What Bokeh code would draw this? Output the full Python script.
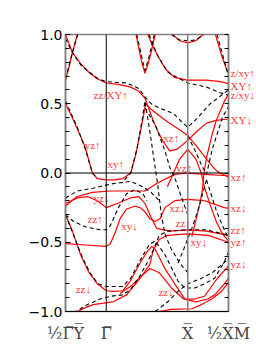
from bokeh.plotting import figure
from bokeh.models import FixedTicker, LinearAxis, Span
from bokeh.core.properties import value
from bokeh.embed import file_html
from bokeh.resources import INLINE
import numpy as np

# ---- high-symmetry path (k positions) ----
kpath_pos = [0, 1, 3, 4]
kpath_labels = ["½Γ\u0305Y\u0305", "Γ\u0305", "X\u0305", "½X\u0305M\u0305"]

# ---- red (solid) bands: (k, E) readings ----
red_zzxy_up = [(0,1.0),(0.17,0.87),(0.37,0.79),(0.6,0.72),(0.78,0.68),(1.0,0.65),(1.3,0.64),(1.6,0.62),(1.8,0.59),(1.95,0.54),(2.05,0.46),(2.15,0.38),(2.27,0.3),(2.39,0.23),(2.56,0.16),(2.73,0.17),(2.98,0.23),(3.22,0.3),(3.46,0.36),(3.7,0.38),(4.0,0.39)]
red_short = [(0,0.67),(0.1,0.78),(0.17,0.87),(0.29,1.0)]
red_yz_up = [(0,0.5),(0.15,0.41),(0.29,0.32),(0.49,0.18),(0.66,0.0),(0.78,-0.04),(1.0,-0.05),(1.2,-0.05),(1.41,-0.04),(1.6,0.0),(1.73,0.14),(1.88,0.36),(1.97,0.5),(2.1,0.46),(2.27,0.42),(2.5,0.37),(2.76,0.32),(3.0,0.27),(3.2,0.2),(3.41,0.12),(3.6,0.05),(3.73,0.01),(4.0,-0.03)]
red_v = [(1.73,1.0),(1.8,0.9),(1.87,0.8),(1.95,0.72),(2.02,0.78),(2.1,0.87),(2.2,1.0)]
red_xy_up = [(2.02,1.0),(2.12,0.93),(2.24,0.86),(2.37,0.79),(2.49,0.74),(2.68,0.69),(2.98,0.67),(3.46,0.67),(3.8,0.66),(4.0,0.645)]
red_top = [(2.63,1.0),(2.8,0.955),(3.0,0.94),(3.2,0.955),(3.37,1.0)]
red_corner = [(3.68,1.0),(3.83,0.85),(3.95,0.75),(4.0,0.72)]
red_zxy_dn = [(4.0,0.57),(3.9,0.52),(3.83,0.47),(3.7,0.38),(3.6,0.28),(3.46,0.11),(3.4,0.0),(3.36,-0.12),(3.3,-0.22),(3.2,-0.34),(3.1,-0.46)]
red_hump = [(2.5,-0.1),(2.65,0.0),(2.8,0.1),(3.0,0.17),(3.2,0.1),(3.33,0.0),(3.41,-0.1),(3.55,-0.23),(3.7,-0.35),(3.85,-0.44),(4.0,-0.49)]
red_yz_dn = [(0,-0.24),(0.15,-0.2),(0.29,-0.17),(0.66,-0.14),(1.1,-0.13),(1.6,-0.13),(1.95,-0.13),(2.27,-0.07),(2.68,-0.01),(3.0,0.0),(3.4,-0.01),(4.0,-0.02)]
red_wobble = [(0,-0.22),(0.29,-0.18),(0.54,-0.17),(0.78,-0.2),(1.0,-0.25),(1.27,-0.22),(1.59,-0.18),(1.8,-0.17),(1.95,-0.22),(2.1,-0.32),(2.24,-0.4),(2.56,-0.42),(3.0,-0.41),(3.46,-0.42),(4.0,-0.45)]
red_xz_dn = [(0,-0.51),(0.5,-0.52),(1.0,-0.53),(1.1,-0.51),(1.22,-0.43),(1.34,-0.33),(1.5,-0.26),(1.7,-0.24),(1.83,-0.25),(1.95,-0.28),(2.07,-0.33),(2.2,-0.35),(2.32,-0.33),(2.44,-0.25),(2.68,-0.2),(3.0,-0.19),(3.41,-0.2),(3.9,-0.25),(4.0,-0.255)]
red_zz_dn = [(0,-0.3),(0.17,-0.42),(0.37,-0.59),(0.56,-0.71),(0.78,-0.8),(1.0,-0.85),(1.17,-0.855),(1.41,-0.85),(1.59,-0.78),(1.83,-0.65),(2.0,-0.57),(2.12,-0.53),(2.2,-0.55),(2.44,-0.69),(2.68,-0.8),(2.93,-0.91),(3.17,-0.91),(3.41,-0.89),(3.73,-0.76),(4.0,-0.67)]
red_bottom = [(0.29,-1.0),(0.5,-0.97),(0.68,-0.95),(0.93,-0.94),(1.17,-0.93),(1.5,-0.88),(1.83,-0.76),(2.07,-0.66),(2.15,-0.56),(2.3,-0.48),(2.5,-0.45),(3.0,-0.44),(3.5,-0.45),(4.0,-0.5)]
red_rise = [(1.34,-0.87),(1.63,-0.81),(1.88,-0.74),(2.07,-0.69),(2.3,-0.72),(2.6,-0.83),(2.9,-0.91),(3.2,-0.93),(3.49,-0.91),(3.66,-0.88),(3.9,-0.8),(4.0,-0.76)]
red_floor = [(2.3,-1.0),(2.6,-0.985),(3.1,-0.98),(3.34,-0.95),(3.59,-0.91),(3.83,-0.855),(4.0,-0.79)]

# ---- black dashed bands: (k, E) readings ----
dash_a = [(0,0.97),(0.17,0.87),(0.4,0.77),(0.8,0.68),(1.0,0.66),(1.5,0.65),(1.8,0.61),(1.95,0.55),(2.1,0.5),(2.3,0.47),(2.65,0.43),(2.85,0.37),(3.0,0.33),(3.25,0.4),(3.55,0.5),(4.0,0.6)]
dash_b = [(0,0.68),(0.17,0.87),(0.3,1.0)]
dash_c = [(0,0.52),(0.29,0.33),(0.49,0.17),(0.66,0.0),(0.78,-0.04)]
dash_d = [(1.45,-0.05),(1.6,0.0),(1.75,0.17),(1.88,0.38),(1.95,0.52),(2.07,0.3),(2.17,0.1),(2.22,0.0),(2.27,-0.1),(2.35,-0.3),(2.45,-0.45),(2.6,-0.55),(2.8,-0.65),(3.0,-0.72)]
dash_e = [(1.95,0.47),(2.2,0.35),(2.44,0.16),(2.56,0.04),(2.7,-0.05),(2.85,-0.18),(3.0,-0.3)]
dash_v = [(1.75,1.0),(1.87,0.84),(1.95,0.74),(2.05,0.84),(2.18,1.0)]
dash_f = [(2.05,1.0),(2.24,0.86),(2.5,0.73),(2.68,0.7),(3.0,0.65),(3.46,0.62),(3.8,0.58),(4.0,0.56)]
dash_g = [(3.72,1.0),(3.86,0.85),(4.0,0.7)]
dash_top = [(2.6,1.0),(2.8,0.96),(3.0,0.955),(3.2,0.96),(3.4,1.0)]
dash_h = [(3.0,0.27),(3.2,0.15),(3.35,0.05),(3.46,-0.01),(3.6,0.17),(3.85,0.4),(4.0,0.48)]
dash_j = [(0,-0.18),(0.29,-0.13),(0.68,-0.11),(1.1,-0.08),(1.34,-0.07),(1.6,-0.06),(1.9,-0.1),(2.1,-0.14),(2.3,-0.2)]
dash_i = [(0,-0.3),(0.2,-0.35),(0.5,-0.39),(0.85,-0.41),(1.0,-0.41),(1.1,-0.38),(1.3,-0.25),(1.5,-0.15),(1.7,-0.12),(1.9,-0.15),(2.0,-0.2)]
dash_k = [(0,-0.3),(0.2,-0.45),(0.4,-0.6),(0.6,-0.72),(0.8,-0.8),(1.0,-0.82),(1.4,-0.82),(1.6,-0.76),(1.85,-0.62),(2.05,-0.52),(2.2,-0.49),(2.44,-0.59),(2.61,-0.69),(2.76,-0.78),(2.93,-0.83),(3.17,-0.83),(3.41,-0.8),(3.66,-0.76),(3.9,-0.64),(4.0,-0.57)]
dash_bot = [(0.2,-1.01),(0.54,-0.95),(0.85,-0.91),(1.1,-0.89),(1.41,-0.88),(1.6,-0.84),(1.83,-0.74),(2.0,-0.65),(2.15,-0.56),(2.3,-0.45),(2.5,-0.42),(3.0,-0.41),(3.46,-0.41),(4.0,-0.45)]
dash_bot2 = [(2.2,-1.0),(2.51,-0.93),(2.76,-0.855),(3.0,-0.8),(3.34,-0.76),(3.6,-0.72),(4.0,-0.62)]
dash_x1 = [(3.46,-0.05),(3.25,-0.27),(3.1,-0.4),(2.9,-0.55),(2.75,-0.66)]
dash_x2 = [(3.46,-0.05),(3.7,-0.27),(3.85,-0.38),(4.0,-0.47)]

red_bands = [red_zzxy_up, red_short, red_yz_up, red_v, red_xy_up, red_top, red_corner,
             red_zxy_dn, red_hump, red_yz_dn, red_wobble, red_xz_dn, red_zz_dn,
             red_bottom, red_rise, red_floor]
dash_bands = [dash_a, dash_b, dash_c, dash_d, dash_e, dash_v, dash_f, dash_g, dash_top,
              dash_h, dash_j, dash_i, dash_k, dash_bot, dash_bot2, dash_x1, dash_x2]

# ---- orbital labels inside the plot ----
in_label_text = ["zz/XY↑", "yz↑", "xy↑", "xz↑", "yz↑", "yz↓", "zz↑", "xy↓", "zz↓", "xz↓", "zz↑", "xy↓", "zz↓"]
in_label_k = [0.69, 0.47, 1.03, 2.4, 2.72, 0.69, 0.54, 1.37, 0.25, 2.55, 2.7, 3.07, 2.28]
in_label_e = [0.565, 0.2, 0.065, 0.25, 0.035, -0.18, -0.335, -0.385, -0.835, -0.25, -0.36, -0.5, -0.86]

# ---- orbital labels on the right edge ----
right_label_text = ["z/xy↑", "XY↑", "z/xy↓", "XY↓", "xz↑", "xz↓", "zz↑", "yz↑", "yz↓"]
right_label_e = [0.72, 0.63, 0.565, 0.38, -0.03, -0.25, -0.41, -0.5, -0.66]

y_ticks = [-1.0, -0.5, 0.0, 0.5, 1.0]
y_tick_labels = ["−1.0", "−0.5", "0.0", "0.5", "1.0"]

RED = "#ff0000"
LBL = "#ff3a3a"
GREY = "#7f7f7f"
SERIF = "Liberation Serif"

p = figure(frame_width=163, frame_height=277, x_range=(0, 4), y_range=(-1.0, 1.0),
           output_backend="svg", toolbar_location=None,
           min_border_left=65, min_border_right=0, min_border_top=34, min_border_bottom=30)
p.background_fill_color = "white"
p.border_fill_color = "white"
p.grid.visible = False
p.outline_line_color = GREY
p.outline_line_width = 1.5

for band in red_bands:
    ks = [b[0] for b in band]
    es = [b[1] for b in band]
    p.line(ks, es, line_color=RED, line_width=1.2)
for band in dash_bands:
    ks = [b[0] for b in band]
    es = [b[1] for b in band]
    p.line(ks, es, line_color="black", line_width=1.1, line_dash="4 3")

p.add_layout(Span(location=0.0, dimension="width", line_color="black", line_width=1))
p.add_layout(Span(location=1, dimension="height", line_color="black", line_width=1))
p.add_layout(Span(location=3, dimension="height", line_color=GREY, line_width=1.5))

p.text(x=in_label_k, y=in_label_e, text=in_label_text, text_color=LBL,
       text_font=value(SERIF), text_font_size="11px", text_baseline="middle", text_align="left")

minor = [round(v, 1) for v in np.arange(-1.0, 1.001, 0.1)]

# left axis
ya = p.yaxis[0]
ya.ticker = FixedTicker(ticks=y_ticks, minor_ticks=minor)
ya.major_label_overrides = {t: l for t, l in zip(y_ticks, y_tick_labels)}
ya.major_label_text_font = "DejaVu Sans"
ya.major_label_text_font_size = "14px"
ya.major_label_text_color = "black"
ya.major_tick_in = 5
ya.major_tick_out = 0
ya.minor_tick_in = 4
ya.minor_tick_out = 0
ya.axis_line_color = GREY
ya.axis_line_width = 1.5
ya.major_label_standoff = 3

# right axis carrying orbital labels
ra = LinearAxis(ticker=FixedTicker(ticks=right_label_e, minor_ticks=minor))
ra.major_label_overrides = {t: l for t, l in zip(right_label_e, right_label_text)}
ra.major_label_text_font = SERIF
ra.major_label_text_font_size = "11px"
ra.major_label_text_color = LBL
ra.major_tick_in = 0
ra.major_tick_out = 0
ra.minor_tick_in = 4
ra.minor_tick_out = 0
ra.axis_line_color = GREY
ra.axis_line_width = 1.5
ra.major_label_standoff = 2
p.add_layout(ra, "right")

# bottom axis
xa = p.xaxis[0]
xa.ticker = FixedTicker(ticks=kpath_pos)
xa.major_label_overrides = {t: l for t, l in zip(kpath_pos, kpath_labels)}
xa.major_label_text_font = "DejaVu Serif"
xa.major_label_text_font_size = "16px"
xa.major_tick_in = 0
xa.major_tick_out = 0
xa.axis_line_color = "black"
xa.major_label_standoff = 12

open("out.html", "w").write(file_html(p, INLINE))
